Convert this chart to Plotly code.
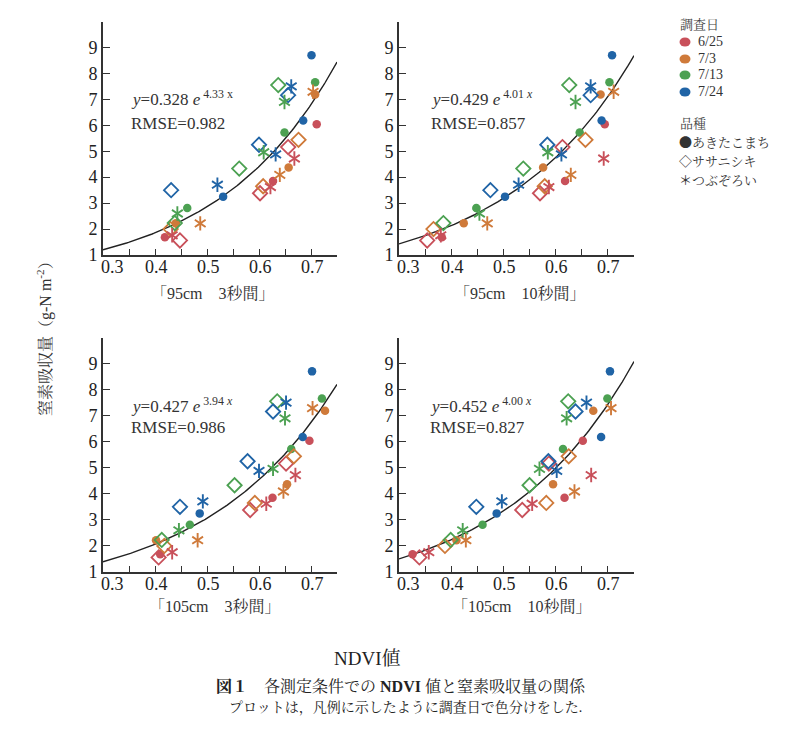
import numpy as np
import plotly.graph_objects as go

# ---------------- data ----------------
dates = ["6/25", "7/3", "7/13", "7/24"]
date_colors = ["#c8505a", "#cf7a3a", "#4ca152", "#2064a6"]
varieties = ["あきたこまち", "ササニシキ", "つぶぞろい"]

# nitrogen uptake (g-N m-2) per date (rows: 6/25, 7/3, 7/13, 7/24)
y_circle = [[1.68, 3.85, 6.04], [2.22, 4.37, 7.19], [2.81, 5.72, 7.66], [3.25, 6.18, 8.70]]
y_diamond = [[1.56, 3.38, 5.16], [2.00, 3.65, 5.44], [2.23, 4.33, 7.55], [3.50, 5.25, 7.16]]
y_aster = [[1.76, 3.62, 4.72], [2.22, 4.09, 7.29], [2.60, 4.96, 6.90], [3.71, 4.88, 7.50]]

# NDVI per panel
x_circle_p1 = [[0.419, 0.627, 0.711], [0.440, 0.657, 0.708], [0.462, 0.649, 0.708], [0.531, 0.685, 0.701]]
x_diamond_p1 = [[0.448, 0.602, 0.656], [0.430, 0.608, 0.676], [0.438, 0.562, 0.637], [0.431, 0.600, 0.656]]
x_aster_p1 = [[0.433, 0.622, 0.668], [0.487, 0.640, 0.704], [0.443, 0.609, 0.649], [0.520, 0.632, 0.662]]

x_circle_p2 = [[0.382, 0.618, 0.694], [0.424, 0.576, 0.686], [0.448, 0.646, 0.703], [0.503, 0.688, 0.708]]
x_diamond_p2 = [[0.354, 0.570, 0.613], [0.366, 0.579, 0.657], [0.385, 0.538, 0.626], [0.475, 0.584, 0.667]]
x_aster_p2 = [[0.380, 0.587, 0.692], [0.469, 0.629, 0.711], [0.454, 0.585, 0.638], [0.529, 0.611, 0.667]]

x_circle_p3 = [[0.410, 0.626, 0.697], [0.402, 0.654, 0.727], [0.467, 0.662, 0.721], [0.486, 0.684, 0.702]]
x_diamond_p3 = [[0.407, 0.583, 0.652], [0.418, 0.592, 0.667], [0.413, 0.553, 0.635], [0.448, 0.578, 0.627]]
x_aster_p3 = [[0.433, 0.614, 0.670], [0.482, 0.647, 0.703], [0.446, 0.627, 0.650], [0.492, 0.600, 0.652]]

x_circle_p4 = [[0.326, 0.617, 0.652], [0.410, 0.595, 0.672], [0.460, 0.614, 0.699], [0.487, 0.687, 0.704]]
x_diamond_p4 = [[0.339, 0.536, 0.587], [0.388, 0.582, 0.625], [0.399, 0.550, 0.624], [0.448, 0.586, 0.638]]
x_aster_p4 = [[0.357, 0.555, 0.668], [0.428, 0.636, 0.706], [0.422, 0.569, 0.621], [0.497, 0.602, 0.659]]

fit_a = [0.328, 0.429, 0.427, 0.452]
fit_b = [4.33, 4.01, 3.94, 4.00]
fit_b_text = ["4.33 x", "4.01 <i>x</i>", "3.94 <i>x</i>", "4.00 <i>x</i>"]
rmse = [0.982, 0.857, 0.986, 0.827]
panel_titles = ["「95cm　3秒間」", "「95cm　10秒間」", "「105cm　3秒間」", "「105cm　10秒間」"]

x_major = [0.3, 0.4, 0.5, 0.6, 0.7]
x_major_text = ["0.3", "0.4", "0.5", "0.6", "0.7"]
x_minor = [0.35, 0.45, 0.55, 0.65]
y_major = [1, 2, 3, 4, 5, 6, 7, 8, 9]
y_major_text = ["1", "2", "3", "4", "5", "6", "7", "8", "9"]
y_minor = [10]

# ---------------- layout helpers ----------------
W, H = 800, 739
SERIF = "'Liberation Serif', 'Noto Serif CJK JP', 'Noto Sans CJK JP', serif"
CJK = "'Noto Sans CJK JP', sans-serif"


def px(x):
    return x / W


def py(y):
    return 1 - y / H


panel_xdom = [[95, 329], [391, 626], [95, 329], [391, 626]]
panel_ydom = [[247, 13.5], [247, 13.5], [564, 329.5], [564, 329.5]]
eq_pos = [(0.350, 7.05, 6.08), (0.357, 7.05, 6.08), (0.350, 7.42, 6.56), (0.355, 7.42, 6.56)]
title_pos = [(205, 285), (512, 285), (207, 598), (514, 598)]

panels = [
    (x_circle_p1, x_diamond_p1, x_aster_p1),
    (x_circle_p2, x_diamond_p2, x_aster_p2),
    (x_circle_p3, x_diamond_p3, x_aster_p3),
    (x_circle_p4, x_diamond_p4, x_aster_p4),
]

fig = go.Figure()
annotations = []
shapes = []
layout_axes = {}

for p in range(4):
    xa = "x" if p == 0 else f"x{p + 1}"
    ya = "y" if p == 0 else f"y{p + 1}"
    xc, xd, xs = panels[p]

    # fit curve
    xf = np.linspace(0.3, 0.75, 120)
    yf = fit_a[p] * np.exp(fit_b[p] * xf)
    fig.add_trace(go.Scatter(x=xf, y=yf, mode="lines", line=dict(color="#222222", width=1.4),
                             xaxis=xa, yaxis=ya, showlegend=False, hoverinfo="skip"))

    for d in range(4):
        col = date_colors[d]
        fig.add_trace(go.Scatter(x=xc[d], y=y_circle[d], mode="markers", xaxis=xa, yaxis=ya,
                                 marker=dict(symbol="circle", size=8.5, color=col, line=dict(width=0)),
                                 showlegend=False, name=f"{dates[d]} {varieties[0]}"))
    for d in range(4):
        col = date_colors[d]
        fig.add_trace(go.Scatter(x=xd[d], y=y_diamond[d], mode="markers", xaxis=xa, yaxis=ya,
                                 marker=dict(symbol="diamond-open", size=11, color=col,
                                             line=dict(width=1.8, color=col)),
                                 showlegend=False, name=f"{dates[d]} {varieties[1]}"))
    for d in range(4):
        col = date_colors[d]
        for sym in ["y-up-open", "y-down-open"]:
            fig.add_trace(go.Scatter(x=xs[d], y=y_aster[d], mode="markers", xaxis=xa, yaxis=ya,
                                     marker=dict(symbol=sym, size=9, color=col,
                                                 line=dict(width=1.9, color=col)),
                                     showlegend=False, name=f"{dates[d]} {varieties[2]}"))

    xkey = "xaxis" if p == 0 else f"xaxis{p + 1}"
    ykey = "yaxis" if p == 0 else f"yaxis{p + 1}"
    layout_axes[xkey] = dict(
        domain=[px(panel_xdom[p][0]), px(panel_xdom[p][1])], anchor=ya, automargin=False,
        range=[0.3, 0.75], tickvals=x_major, showticklabels=False,
        ticks="inside", ticklen=6, tickwidth=1.3, tickcolor="#333333",
        minor=dict(tickvals=x_minor, ticks="inside", ticklen=6, tickwidth=1.3,
                   tickcolor="#333333", showgrid=False),
        showline=True, linecolor="#333333", linewidth=1.6, showgrid=False, zeroline=False,
        fixedrange=True,
    )
    layout_axes[ykey] = dict(
        domain=[py(panel_ydom[p][0]), py(panel_ydom[p][1])], anchor=xa, automargin=False,
        range=[1, 10], tickvals=y_major, ticktext=y_major_text,
        ticks="inside", ticklen=7, tickwidth=1.3, tickcolor="#333333",
        minor=dict(tickvals=y_minor, ticks="inside", ticklen=7, tickwidth=1.3,
                   tickcolor="#333333", showgrid=False),
        showline=True, linecolor="#333333", linewidth=1.6, showgrid=False, zeroline=False,
        tickfont=dict(family=SERIF, size=18, color="#222222"), fixedrange=True,
    )

    # x tick labels placed through the x axis scale, close under the axis line
    for v, t in zip(x_major, x_major_text):
        annotations.append(dict(x=v, y=py(panel_ydom[p][0] + 12), xref=xa, yref="paper",
                                xanchor="center", yanchor="middle", showarrow=False, text=t,
                                xshift=9 if v == 0.3 else 1,
                                font=dict(family=SERIF, size=18, color="#222222")))

    ex, ey1, ey2 = eq_pos[p]
    annotations.append(dict(x=ex, y=ey1, xref=xa, yref=ya, xanchor="left", yanchor="middle",
                            showarrow=False,
                            text=f"<i>y</i>={fit_a[p]:.3f} <i>e</i><sup> {fit_b_text[p]}</sup>",
                            font=dict(family=SERIF, size=17, color="#333333")))
    annotations.append(dict(x=ex, y=ey2, xref=xa, yref=ya, xanchor="left", yanchor="middle",
                            showarrow=False, text=f"RMSE={rmse[p]:.3f}",
                            font=dict(family=SERIF, size=17, color="#333333")))
    tx, ty = title_pos[p]
    annotations.append(dict(x=px(tx), y=py(ty), xref="paper", yref="paper", xanchor="center",
                            yanchor="middle", showarrow=False, text=panel_titles[p],
                            font=dict(family=SERIF, size=16, color="#333333")))

# y axis title
annotations.append(dict(x=px(37), y=py(327), xref="paper", yref="paper", xanchor="center",
                        yanchor="middle", showarrow=False, textangle=-90,
                        text="窒素吸収量（g-N m<sup>-2</sup>）",
                        font=dict(family=SERIF, size=16, color="#333333")))
# x title and caption
annotations.append(dict(x=px(359), y=py(650), xref="paper", yref="paper", xanchor="center",
                        yanchor="middle", showarrow=False, text="NDVI値",
                        font=dict(family=SERIF, size=19, color="#222222")))
annotations.append(dict(x=px(393), y=py(678), xref="paper", yref="paper", xanchor="center",
                        yanchor="middle", showarrow=False,
                        text="<b>図１</b>　各測定条件での <b>NDVI</b> 値と窒素吸収量の関係",
                        font=dict(family=SERIF, size=16, color="#222222")))
annotations.append(dict(x=px(397), y=py(699), xref="paper", yref="paper", xanchor="center",
                        yanchor="middle", showarrow=False,
                        text="プロットは，凡例に示したように調査日で色分けをした.",
                        font=dict(family=SERIF, size=14, color="#222222")))

# legend (custom)
annotations.append(dict(x=px(670), y=py(16), xref="paper", yref="paper", xanchor="left",
                        yanchor="middle", showarrow=False, text="調査日",
                        font=dict(family=SERIF, size=13, color="#444444")))
leg_y = [34, 51, 67, 84]
for d in range(4):
    cy = leg_y[d]
    shapes.append(dict(type="circle", xref="paper", yref="paper",
                       x0=px(671.5), x1=px(682.5), y0=py(cy + 4.5), y1=py(cy - 4.5),
                       fillcolor=date_colors[d], line=dict(width=0)))
    annotations.append(dict(x=px(688), y=py(cy), xref="paper", yref="paper", xanchor="left",
                            yanchor="middle", showarrow=False, text=dates[d],
                            font=dict(family=SERIF, size=14, color="#333333")))
annotations.append(dict(x=px(670), y=py(115), xref="paper", yref="paper", xanchor="left",
                        yanchor="middle", showarrow=False, text="品種",
                        font=dict(family=SERIF, size=13, color="#444444")))
leg_var_sym = ["●", "◇", "＊"]
leg_var_y = [133.5, 152.5, 171.5]
for v in range(3):
    annotations.append(dict(x=px(669), y=py(leg_var_y[v]), xref="paper", yref="paper",
                            xanchor="left", yanchor="middle", showarrow=False,
                            text=f"<span style=\"font-family:{CJK}\">{leg_var_sym[v]}</span>"
                                 + varieties[v],
                            font=dict(family=SERIF, size=13, color="#333333")))

fig.update_layout(
    width=W, height=H, margin=dict(l=0, r=0, t=0, b=0),
    paper_bgcolor="white", plot_bgcolor="white", showlegend=False,
    annotations=annotations, shapes=shapes, **layout_axes,
)

fig.write_html("out.html")
